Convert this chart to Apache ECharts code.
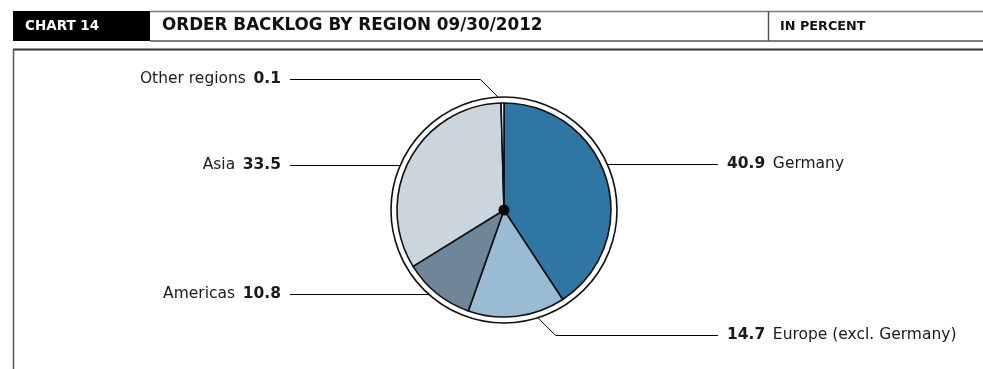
<!DOCTYPE html>
<html><head><meta charset="utf-8">
<script src="https://cdn.jsdelivr.net/npm/echarts@6.0.0/dist/echarts.min.js"></script>
<style>html,body{margin:0;padding:0;background:#fff}#c{width:983px;height:369px}</style>
</head><body><div id="c"></div>
<script>
// ---- data ----
const chartNumber = 'CHART 14';
const chartTitle = 'ORDER BACKLOG BY REGION 09/30/2012';
const unitLabel = 'IN PERCENT';
const regions = ['Germany', 'Europe (excl. Germany)', 'Americas', 'Asia', 'Other regions'];
const shares = [40.9, 14.7, 10.8, 33.5, 0.1];
const sliceColors = ['#2f76a5', '#99bbd3', '#6f8699', '#cbd5de', '#f4f4f4'];

// ---- layout (positions only) ----
const CX = 504, CY = 210, R_PIE = 107, R_RING = 113;
const FONT = '"DejaVu Sans"';
const labelSpec = {
  'Germany': { side: 'right', y: 164 },
  'Europe (excl. Germany)': { side: 'right', y: 335, anchorDeg: 162.5 },
  'Americas': { side: 'left', y: 294 },
  'Asia': { side: 'left', y: 165 },
  'Other regions': { side: 'left', y: 79, anchorDeg: -3 }
};
const LEFT_TEXT_X = 281, LEFT_LINE_X = 290, RIGHT_LINE_X = 718, RIGHT_TEXT_X = 727;

function leader(spec) {
  const s = spec.side === 'left' ? -1 : 1;
  const endX = s < 0 ? LEFT_LINE_X : RIGHT_LINE_X;
  const ly = spec.y + 0.5;
  if (spec.anchorDeg == null) {
    const dy = ly - CY;
    const ax = CX + s * Math.sqrt(R_RING * R_RING - dy * dy);
    return [[ax, ly], [ax, ly], [endX, ly]];
  }
  const a = spec.anchorDeg * Math.PI / 180;
  const ax = CX + R_RING * Math.sin(a), ay = CY - R_RING * Math.cos(a);
  const ex = ax + s * Math.abs(ly - ay);
  return [[ax, ay], [ex, ly], [endX, ly]];
}

const chart = echarts.init(document.getElementById('c'), null, { renderer: 'canvas' });

const pieData = regions.map((r, i) => ({ name: r, value: shares[i], itemStyle: { color: sliceColors[i] } }));

const textCommon = { fontFamily: 'DejaVu Sans', fontSize: 15.5, color: '#1a1a1a' };

chart.setOption({
  animation: false,
  textStyle: { fontFamily: 'DejaVu Sans' },
  graphic: [
    { type: 'rect', shape: { x: 13, y: 11, width: 137, height: 30 }, style: { fill: '#000' }, z: 10 },
    { type: 'line', shape: { x1: 150, y1: 11.5, x2: 983, y2: 11.5 }, style: { stroke: '#7a7a7a', lineWidth: 1.5 }, z: 10 },
    { type: 'line', shape: { x1: 150, y1: 41, x2: 983, y2: 41 }, style: { stroke: '#555', lineWidth: 1.5 }, z: 10 },
    { type: 'line', shape: { x1: 768.5, y1: 11, x2: 768.5, y2: 41 }, style: { stroke: '#555', lineWidth: 1.5 }, z: 10 },
    { type: 'line', shape: { x1: 13, y1: 49.5, x2: 983, y2: 49.5 }, style: { stroke: '#333', lineWidth: 2 }, z: 10 },
    { type: 'line', shape: { x1: 13.5, y1: 49, x2: 13.5, y2: 369 }, style: { stroke: '#555', lineWidth: 1.5 }, z: 10 },
    { type: 'text', x: 25, y: 26, style: { text: chartNumber, fill: '#fff', font: 'bold 13.5px ' + FONT, textVerticalAlign: 'middle' }, z: 11 },
    { type: 'text', x: 162, y: 26, style: { text: chartTitle, fill: '#111', font: 'bold 16.8px ' + FONT, textVerticalAlign: 'middle' }, z: 11 },
    { type: 'text', x: 780, y: 27, style: { text: unitLabel, fill: '#111', font: 'bold 12.8px ' + FONT, textVerticalAlign: 'middle' }, z: 11 }
  ],
  series: [
    {
      type: 'pie', silent: true, center: [CX, CY], radius: [0, R_RING], z: 1,
      label: { show: false }, labelLine: { show: false },
      itemStyle: { color: '#fff', borderColor: '#111', borderWidth: 1.6 },
      data: [{ value: 1, name: 'ring' }]
    },
    {
      type: 'pie', center: [CX, CY], radius: [0, R_PIE], z: 2,
      startAngle: 90, clockwise: true, minAngle: 1.6, avoidLabelOverlap: false,
      itemStyle: { borderColor: '#111', borderWidth: 1.6 },
      label: {
        show: true, position: 'outside',
        formatter: p => {
          const v = p.value.toFixed(1);
          return labelSpec[p.name].side === 'left' ? '{n|' + p.name + '}  {v|' + v + '}' : '{v|' + v + '}  {n|' + p.name + '}';
        },
        rich: {
          n: Object.assign({}, textCommon),
          v: Object.assign({}, textCommon, { fontWeight: 'bold' })
        }
      },
      labelLine: { show: true, lineStyle: { color: '#000', width: 1 } },
      labelLayout: params => {
        const spec = labelSpec[regions[params.dataIndex]];
        const left = spec.side === 'left';
        return {
          x: left ? LEFT_TEXT_X : RIGHT_TEXT_X,
          y: spec.y,
          align: left ? 'right' : 'left',
          verticalAlign: 'middle',
          labelLinePoints: leader(spec)
        };
      },
      data: pieData
    },
    {
      type: 'pie', silent: true, center: [CX, CY], radius: [0, 5.5], z: 3,
      label: { show: false }, labelLine: { show: false },
      itemStyle: { color: '#000' },
      data: [{ value: 1, name: 'hub' }]
    }
  ]
});
</script>
</body></html>
